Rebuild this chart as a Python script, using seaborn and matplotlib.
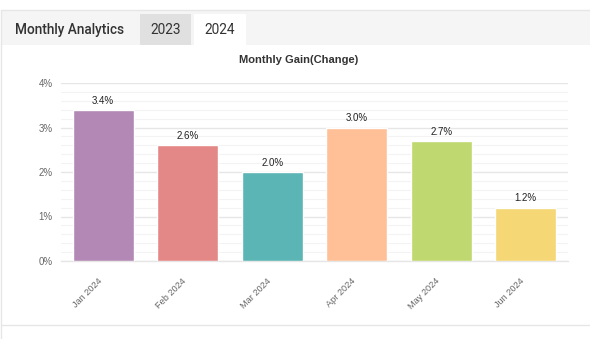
import matplotlib
matplotlib.use("Agg")
import matplotlib.pyplot as plt
import matplotlib.transforms as mtransforms
import seaborn as sns
import pandas as pd
from matplotlib.patches import Rectangle
from matplotlib.lines import Line2D
from matplotlib.ticker import MultipleLocator, FuncFormatter

months = ["Jan 2024", "Feb 2024", "Mar 2024", "Apr 2024", "May 2024", "Jun 2024"]
gains = [3.4, 2.6, 2.0, 3.0, 2.7, 1.2]
bar_colors = ["#b388b5", "#e38886", "#5bb5b5", "#ffc097", "#bfd86f", "#f5d776"]
value_labels = ["3.4%", "2.6%", "2.0%", "3.0%", "2.7%", "1.2%"]
y_ticks = [0, 1, 2, 3, 4]
tabs = ["2023", "2024"]

sns.set_theme(style="white")
plt.rcParams['font.family'] = ['Liberation Sans', 'DejaVu Sans']

W, H = 590, 339
fig = plt.figure(figsize=(W / 100, H / 100), dpi=100)
fig.patch.set_facecolor("white")

def fx(x):
    return x / W

def fy(y):
    return 1 - y / H

# header band
fig.patches.append(Rectangle((fx(1), fy(45)), fx(589), (45 - 10) / H, transform=fig.transFigure,
                             facecolor="#f5f5f5", edgecolor="none", zorder=0))
fig.patches.append(Rectangle((fx(140), fy(45)), fx(51), (45 - 14) / H, transform=fig.transFigure,
                             facecolor="#e0e0e0", edgecolor="none", zorder=1))
fig.patches.append(Rectangle((fx(194), fy(45)), fx(52), (45 - 14) / H, transform=fig.transFigure,
                             facecolor="white", edgecolor="none", zorder=1))
fig.lines.append(Line2D([fx(1), 1], [fy(9.5), fy(9.5)], transform=fig.transFigure, color="#e6e6e6", lw=1))
fig.lines.append(Line2D([fx(1), fx(1)], [fy(9.5), 0], transform=fig.transFigure, color="#e6e6e6", lw=1))
fig.lines.append(Line2D([fx(1), 1], [fy(325), fy(325)], transform=fig.transFigure, color="#e6e6e6", lw=1))

fig.text(fx(15), fy(30), "Monthly Analytics", fontsize=9.8, color="#333333",
         family=["Roboto", "DejaVu Sans"], fontweight="medium", va="center", ha="left")
fig.text(fx(165.5), fy(30), tabs[0], fontsize=9.8, color="#333333",
         family=["Roboto", "DejaVu Sans"], va="center", ha="center")
fig.text(fx(220), fy(30), tabs[1], fontsize=9.8, color="#333333",
         family=["Roboto", "DejaVu Sans"], va="center", ha="center")

ax = fig.add_axes([fx(61), fy(261), fx(568 - 61), (261 - 83) / H])
df = pd.DataFrame({"month": months, "gain": gains})
sns.barplot(data=df, x="month", y="gain", hue="month", palette=bar_colors, legend=False,
            width=0.72, saturation=1, ax=ax, zorder=3)

ax.set_ylim(0, 4)
ax.set_xlim(-0.5, len(months) - 0.5)
ax.yaxis.set_major_locator(MultipleLocator(1))
ax.yaxis.set_minor_locator(MultipleLocator(0.2))
ax.yaxis.set_major_formatter(FuncFormatter(lambda v, p: f"{int(round(v))}%"))
ax.grid(axis="y", which="major", color="#e6e6e6", lw=1, zorder=0)
ax.grid(axis="y", which="minor", color="#f3f3f3", lw=0.8, zorder=0)
ax.set_axisbelow(True)
for s in ["top", "right", "left"]:
    ax.spines[s].set_visible(False)
ax.spines["bottom"].set_color("#e6e6e6")
ax.spines["bottom"].set_linewidth(1)
ax.tick_params(axis="y", which="both", length=0, labelsize=7, labelcolor="#666666", pad=6)
ax.tick_params(axis="x", length=0, labelsize=6.6, labelcolor="#666666", pad=11)
ax.set_xlabel("")
ax.set_ylabel("")
offset = mtransforms.ScaledTranslation(-6 / 100, 0, fig.dpi_scale_trans)
for lab in ax.get_xticklabels():
    lab.set_rotation(45)
    lab.set_ha("right")
    lab.set_rotation_mode("anchor")
    lab.set_transform(lab.get_transform() + offset)

for i, (g, t) in enumerate(zip(gains, value_labels)):
    ax.annotate(t, (i, g), xytext=(0, 3), textcoords="offset points", ha="center", va="bottom",
                fontsize=7, color="#222222")

fig.text(fx(298.5), fy(60), "Monthly Gain(Change)", fontsize=8, fontweight="bold",
         color="#333333", ha="center", va="center")

fig.savefig("out.png", dpi=100, facecolor="white")
